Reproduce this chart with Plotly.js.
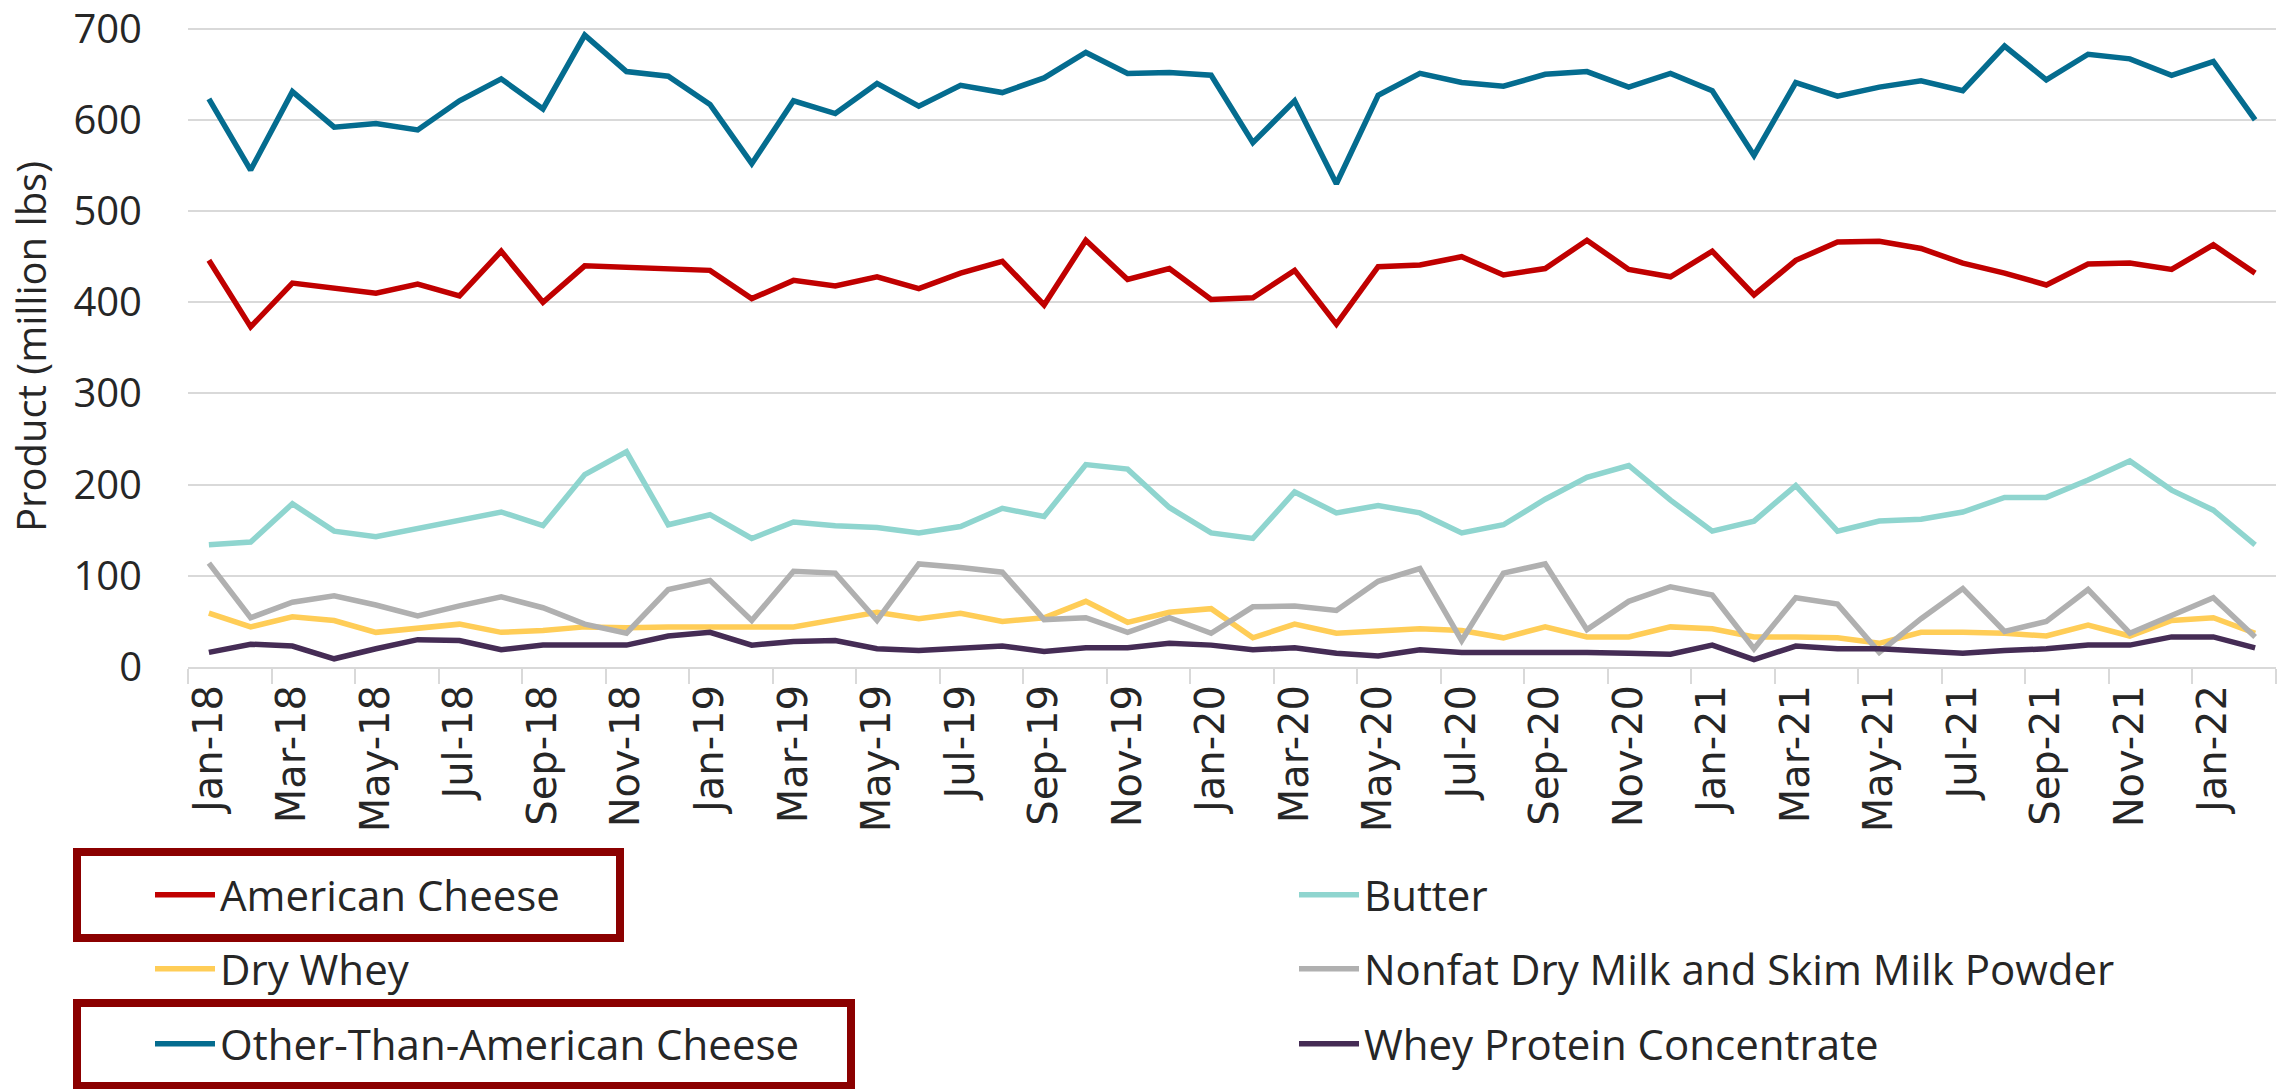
<!DOCTYPE html>
<html><head><meta charset="utf-8">
<script src="https://cdn.plot.ly/plotly-3.0.1.min.js"></script>
<style>html,body{margin:0;padding:0;background:#fff}#chart{width:2288px;height:1089px}</style>
</head><body><div id="chart"></div>
<script>
const months = ["Jan-18","Feb-18","Mar-18","Apr-18","May-18","Jun-18","Jul-18","Aug-18","Sep-18","Oct-18","Nov-18","Dec-18",
"Jan-19","Feb-19","Mar-19","Apr-19","May-19","Jun-19","Jul-19","Aug-19","Sep-19","Oct-19","Nov-19","Dec-19",
"Jan-20","Feb-20","Mar-20","Apr-20","May-20","Jun-20","Jul-20","Aug-20","Sep-20","Oct-20","Nov-20","Dec-20",
"Jan-21","Feb-21","Mar-21","Apr-21","May-21","Jun-21","Jul-21","Aug-21","Sep-21","Oct-21","Nov-21","Dec-21",
"Jan-22","Feb-22"];

const americanCheese = [446,373,421,416,410,420,407,456,400,440,438,437,435,404,424,418,428,415,432,445,397,468,425,437,403,405,435,376,439,441,450,430,437,468,436,428,456,408,446,466,467,459,443,432,419,442,443,436,463,432];
const butter = [134,137,179,149,143,152,162,170,155,211,236,156,167,141,159,155,153,147,154,174,165,222,217,175,147,141,192,169,177,169,147,156,184,208,221,183,149,160,199,149,160,162,170,186,186,205,226,194,172,134];
const dryWhey = [59,44,55,51,38,43,47,38,40,44,43,44,44,43,44,52,60,53,59,50,54,72,49,60,64,32,47,37,39,42,40,32,44,33,33,44,42,33,33,32,26,38,38,37,34,46,34,51,54,37];
const nonfatDryMilk = [114,54,71,78,68,56,67,77,65,47,37,85,95,51,105,103,51,113,109,104,52,54,38,54,37,66,67,62,94,108,29,103,113,41,72,88,79,20,76,69,16,53,86,39,50,85,37,56,76,33];
const otherCheese = [623,545,631,592,596,589,621,645,612,693,653,648,617,552,621,607,640,615,638,630,646,674,651,652,649,575,621,530,627,651,641,637,650,653,636,651,632,561,641,626,636,643,632,681,644,672,667,649,664,600];
const wpc = [16,25,23,9,20,30,29,19,24,24,24,34,38,24,28,29,20,18,21,23,17,21,21,26,24,19,21,15,12,19,16,16,17,16,15,14,24,8,23,20,20,17,15,18,20,24,24,33,33,21];

const seriesNames = ["American Cheese","Butter","Dry Whey","Nonfat Dry Milk and Skim Milk Powder","Other-Than-American Cheese","Whey Protein Concentrate"];
const seriesColors = ["#C00000","#8FD5CF","#FFCD57","#B0B0B0","#046C8F","#452C55"];
const seriesValues = [americanCheese, butter, dryWhey, nonfatDryMilk, otherCheese, wpc];
const legendIds = ["legend","legend2","legend3","legend4","legend5","legend6"];

const traces = seriesValues.map((vals, i) => ({
  type: "scatter", mode: "lines", x: months, y: vals, name: seriesNames[i],
  line: {color: seriesColors[i], width: 5.5}, legend: legendIds[i]
}));

// plot-area pixel geometry (for placing legend entries and boxes)
const PL = 188, PR = 2276, PT = 26, PB = 667;
const fx = X => (X - PL) / (PR - PL);
const fy = Y => (PB - Y) / (PB - PT);

const font = "Open Sans, Noto Sans, sans-serif";
const legendSlots = [[150, 895], [1294, 895], [150, 969], [1294, 969], [150, 1044], [1294, 1044]];
const legendBase = {
  orientation: "v", xanchor: "left", yanchor: "middle",
  font: {family: font, size: 42, color: "#262626"},
  itemwidth: 60, bgcolor: "rgba(0,0,0,0)", borderwidth: 0
};

const boxColor = "#8B0000";
const layout = {
  width: 2288, height: 1089,
  margin: {l: PL, r: 2288 - PR, t: PT, b: 1089 - PB, pad: 0, autoexpand: false},
  paper_bgcolor: "#fff", plot_bgcolor: "#fff",
  showlegend: true,
  xaxis: {
    type: "category", range: [-0.5, 49.5], tickmode: "linear", tick0: 0, dtick: 2,
    tickson: "boundaries", ticks: "outside", ticklen: 15, tickwidth: 2, tickcolor: "#D9D9D9",
    showline: true, linecolor: "#D9D9D9", linewidth: 2, showgrid: false, zeroline: false,
    tickangle: -90, tickfont: {family: "DejaVu Sans, sans-serif", size: 40, color: "#262626"},
    automargin: false, ticklabeloverflow: "allow"
  },
  yaxis: {
    range: [0, 703], tickmode: "linear", tick0: 0, dtick: 100,
    showgrid: true, gridcolor: "#D9D9D9", gridwidth: 2, zeroline: false, showline: false,
    ticks: "", ticklabelstandoff: 45, ticklabeloverflow: "allow",
    tickfont: {family: font, size: 40, color: "#262626"}, automargin: false,
    title: {text: "Product (million lbs)", font: {family: font, size: 40, color: "#262626"}, standoff: 14}
  },
  shapes: [
    {type: "rect", xref: "paper", yref: "paper", x0: fx(77), x1: fx(620), y0: fy(852), y1: fy(938), line: {color: boxColor, width: 8}},
    {type: "rect", xref: "paper", yref: "paper", x0: fx(77), x1: fx(851), y0: fy(1003), y1: fy(1086), line: {color: boxColor, width: 8}}
  ]
};
legendIds.forEach((id, i) => {
  layout[id] = Object.assign({}, legendBase, {x: fx(legendSlots[i][0]), y: fy(legendSlots[i][1])});
});

Plotly.newPlot("chart", traces, layout, {staticPlot: true, displayModeBar: false});
</script></body></html>
